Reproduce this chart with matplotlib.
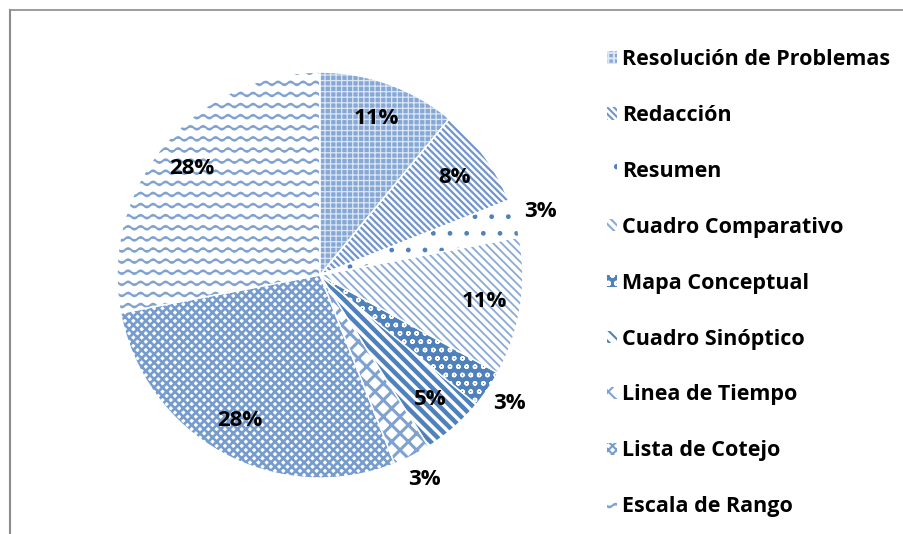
import numpy as np
import matplotlib.pyplot as plt
import matplotlib.hatch as mhatch
from matplotlib.path import Path
from matplotlib.patches import Patch
from matplotlib.lines import Line2D

# datos del gráfico
categorias = ['Resolución de Problemas', 'Redacción', 'Resumen', 'Cuadro Comparativo',
              'Mapa Conceptual', 'Cuadro Sinóptico', 'Linea de Tiempo',
              'Lista de Cotejo', 'Escala de Rango']
porcentajes = [11, 8, 3, 11, 3, 5, 3, 28, 28]
etiquetas = ['11%', '8%', '3%', '11%', '3%', '5%', '3%', '28%', '28%']
fuera = [False, False, True, False, True, False, True, False, False]


# trama ondulada para "Escala de Rango" (no existe en matplotlib)
class OndaHatch(mhatch.HatchPatternBase):
    def __init__(self, hatch, density):
        self.num_lines = 9 if '~' in hatch else 0
        self.pts = 8 * 8 + 1
        self.num_vertices = self.num_lines * self.pts

    def set_vertices_and_codes(self, vertices, codes):
        t = np.linspace(0, 1, self.pts)
        i = 0
        for k in range(self.num_lines):
            y0 = (k + 0.5) / self.num_lines
            vertices[i:i + self.pts, 0] = t
            vertices[i:i + self.pts, 1] = y0 + 0.018 * np.sin(2 * np.pi * 8 * t)
            codes[i] = Path.MOVETO
            codes[i + 1:i + self.pts] = Path.LINETO
            i += self.pts


mhatch._hatch_types.append(OndaHatch)

azul = '#4F81BD'
tramas = ['+++', '\\\\\\\\\\', '.', '\\\\\\\\', 'oo', '\\\\\\', 'xx', 'xxxx', '~']
fondos = ['#86A8D6', 'white', 'white', 'white', azul, 'white', 'white', 'white', 'white']
color_trama = ['#DCE6F3', '#6F95CA', azul, '#8AAAD6', 'white', azul, '#7FA2D0', '#769CCE', '#7FA2D0']
grosor = [0.9, 1.6, 1.0, 1.3, 1.0, 3.2, 2.2, 1.9, 1.5]

plt.rcParams['font.family'] = ['Open Sans', 'DejaVu Sans']
plt.rcParams['hatch.linewidth'] = 1.5

fig = plt.figure(figsize=(9.04, 5.34), dpi=100)
ax = fig.add_axes([0.1294, 0.1049, 0.449, 0.760])

wedges, _ = ax.pie(porcentajes, startangle=90, counterclock=False, radius=1,
                   colors=fondos, wedgeprops=dict(linewidth=0))
for w, h, c, g in zip(wedges, tramas, color_trama, grosor):
    w.set_hatch(h)
    w.set_edgecolor(c)
    w.set_linewidth(0)
    if hasattr(w, 'set_hatch_linewidth'):
        w.set_hatch_linewidth(g)

# bordes blancos entre sectores
ax.pie(porcentajes, startangle=90, counterclock=False, radius=1,
       colors=['none'] * len(porcentajes),
       wedgeprops=dict(linewidth=1, edgecolor='white'))

acum = 0
for p, lab, f in zip(porcentajes, etiquetas, fuera):
    ang = np.deg2rad(90 - (acum + p / 2) * 3.6)
    r = 1.13 if f else 0.82
    ax.text(r * np.cos(ang), r * np.sin(ang), lab, ha='center', va='center',
            fontsize=16, fontweight='bold', color='black')
    acum += p

ax.set_xlim(-1, 1)
ax.set_ylim(-1, 1)
ax.set_aspect('equal')
ax.axis('off')

handles = []
for h, fc, c, g in zip(tramas, fondos, color_trama, grosor):
    pa = Patch(facecolor=fc, edgecolor=c, hatch=h, linewidth=0)
    if hasattr(pa, 'set_hatch_linewidth'):
        pa.set_hatch_linewidth(g)
    handles.append(pa)
fig.legend(handles, categorias, loc='upper left', bbox_to_anchor=(0.6615, 0.924),
           frameon=False, prop=dict(size=15.5, weight='bold'),
           handlelength=0.5, handleheight=0.5, handletextpad=0.2,
           labelspacing=1.62, borderaxespad=0)

# marco del área del gráfico
fig.add_artist(Line2D([10 / 904, 1], [1 - 10 / 534, 1 - 10 / 534], color='#8C8C8C', lw=1.2))
fig.add_artist(Line2D([10 / 904, 10 / 904], [0, 1 - 10 / 534], color='#8C8C8C', lw=1.5))

fig.savefig('out.png', dpi=100)
